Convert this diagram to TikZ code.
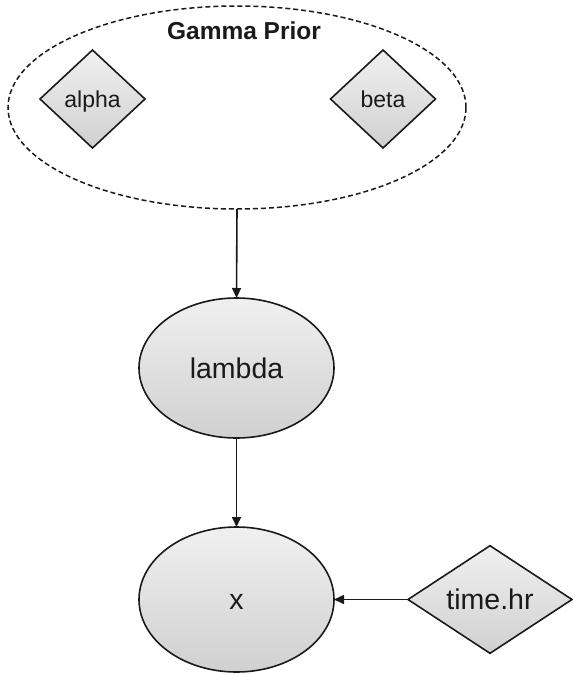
\documentclass[tikz,border=0pt]{standalone}
\usepackage{fontspec}
\setmainfont{Liberation Sans}
\usetikzlibrary{shapes.geometric,arrows.meta}
\definecolor{shtop}{HTML}{F0F0F0}
\definecolor{shbot}{HTML}{D0D0D0}
\definecolor{ink}{HTML}{1A1A1A}
\begin{document}
\begin{tikzpicture}[x=1pt,y=-1pt,
  shapebox/.style={draw=ink,line width=1.6pt,top color=shtop,bottom color=shbot,inner sep=0pt,outer sep=0pt,text=ink},
  ell/.style={shapebox,ellipse,minimum width=195pt,minimum height=#1,font=\fontsize{28.5}{34}\selectfont,text height=20.5pt,text depth=0pt},
  smalldia/.style={shapebox,diamond,minimum width=105pt,minimum height=98pt,font=\fontsize{23}{28}\selectfont,text height=16.5pt,text depth=0pt},
  bigdia/.style={shapebox,diamond,minimum width=164pt,minimum height=97pt,font=\fontsize{28.5}{34}\selectfont,text height=20.5pt,text depth=0pt},
  arr/.style={draw=ink,line width=1.6pt,-{Triangle[length=10pt,width=9pt]}}
]
\useasboundingbox (0,0) rectangle (573,675);
\node[draw=ink,line width=1.5pt,dash pattern=on 5pt off 3pt,ellipse,minimum width=458pt,minimum height=203pt,inner sep=0pt,outer sep=0pt] (prior) at (237,107.5) {};
\node[font=\fontsize{24.5}{30}\selectfont\bfseries,text=ink,anchor=base,inner sep=0pt] (gp) at (244,39.3) {Gamma Prior};
\node[smalldia] (alpha) at (92.5,99) {alpha};
\node[smalldia] (beta) at (383,99) {beta};
\node[ell=140pt] (lambda) at (236.5,368) {lambda};
\node[ell=145pt] (x) at (236.5,599.5) {x};
\node[bigdia] (time) at (490,599.5) {time.hr};
\draw[arr] (prior.south) -- (lambda.north);
\draw[arr] (lambda.south) -- (x.north);
\draw[arr] (time.west) -- (x.east);
\end{tikzpicture}
\end{document}
